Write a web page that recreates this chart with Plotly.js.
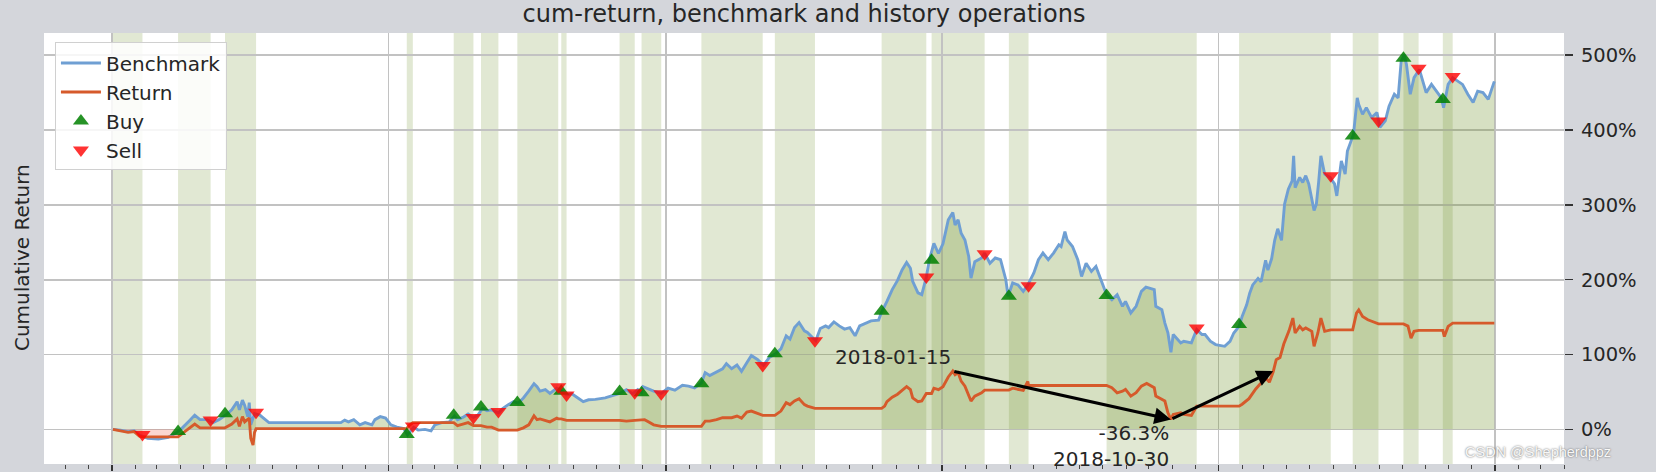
<!DOCTYPE html>
<html>
<head>
<meta charset="utf-8">
<script src="https://cdn.plot.ly/plotly-3.0.1.min.js"></script>
<style>html,body{margin:0;padding:0;background:#d4d6db;}#chart{width:1656px;height:472px;}</style>
</head>
<body>
<div id="chart"></div>
<script>
// ---- Benchmark cumulative return (%) ----
const benchDates = ['2015-01-02','2015-01-12','2015-01-22','2015-01-30','2015-02-06','2015-02-17','2015-03-03','2015-03-16','2015-03-27','2015-04-03','2015-04-14','2015-04-20','2015-04-27','2015-05-06','2015-05-14','2015-05-22','2015-06-01','2015-06-08','2015-06-15','2015-06-18','2015-06-22','2015-06-25','2015-06-29','2015-07-01','2015-07-03','2015-07-08','2015-07-15','2015-07-22','2015-07-27','2015-10-30','2015-11-04','2015-11-09','2015-11-16','2015-11-24','2015-12-01','2015-12-10','2015-12-14','2015-12-21','2015-12-28','2016-01-04','2016-01-12','2016-01-21','2016-01-26','2016-02-03','2016-02-09','2016-02-18','2016-02-26','2016-03-02','2016-03-11','2016-03-21','2016-03-28','2016-04-01','2016-04-08','2016-04-15','2016-04-22','2016-04-28','2016-05-04','2016-05-10','2016-05-16','2016-05-25','2016-05-31','2016-06-07','2016-06-14','2016-06-20','2016-06-27','2016-07-04','2016-07-11','2016-07-15','2016-07-19','2016-07-26','2016-08-01','2016-08-10','2016-08-17','2016-08-23','2016-08-30','2016-09-07','2016-09-14','2016-09-21','2016-09-30','2016-10-13','2016-10-24','2016-11-01','2016-11-10','2016-11-18','2016-11-25','2016-11-30','2016-12-02','2016-12-09','2016-12-16','2016-12-26','2017-01-04','2017-01-13','2017-01-23','2017-01-31','2017-02-08','2017-02-17','2017-02-22','2017-02-28','2017-03-09','2017-03-17','2017-03-22','2017-03-29','2017-04-05','2017-04-11','2017-04-18','2017-04-24','2017-05-02','2017-05-10','2017-05-18','2017-05-26','2017-06-02','2017-06-09','2017-06-14','2017-06-20','2017-06-26','2017-07-03','2017-07-07','2017-07-18','2017-07-24','2017-07-31','2017-08-04','2017-08-11','2017-08-18','2017-08-25','2017-09-01','2017-09-08','2017-09-14','2017-09-21','2017-09-29','2017-10-09','2017-10-13','2017-10-20','2017-10-27','2017-11-03','2017-11-09','2017-11-15','2017-11-20','2017-11-23','2017-11-30','2017-12-05','2017-12-11','2017-12-15','2017-12-21','2017-12-27','2018-01-02','2018-01-09','2018-01-15','2018-01-18','2018-01-22','2018-01-26','2018-01-31','2018-02-05','2018-02-08','2018-02-13','2018-02-22','2018-02-26','2018-03-05','2018-03-12','2018-03-19','2018-03-26','2018-03-29','2018-04-04','2018-04-11','2018-04-18','2018-04-24','2018-05-02','2018-05-08','2018-05-14','2018-05-21','2018-05-28','2018-06-04','2018-06-07','2018-06-12','2018-06-15','2018-06-22','2018-06-29','2018-07-04','2018-07-10','2018-07-17','2018-07-23','2018-07-30','2018-08-06','2018-08-13','2018-08-20','2018-08-27','2018-08-31','2018-09-07','2018-09-14','2018-09-21','2018-09-27','2018-10-08','2018-10-10','2018-10-18','2018-10-22','2018-10-26','2018-10-30','2018-11-02','2018-11-12','2018-11-16','2018-11-26','2018-12-03','2018-12-10','2018-12-14','2018-12-21','2018-12-28','2019-01-09','2019-01-16','2019-01-21','2019-01-28','2019-02-01','2019-02-07','2019-02-11','2019-02-15','2019-02-22','2019-02-26','2019-03-04','2019-03-07','2019-03-12','2019-03-16','2019-03-20','2019-03-25','2019-03-29','2019-04-03','2019-04-08','2019-04-10','2019-04-12','2019-04-18','2019-04-22','2019-04-26','2019-04-30','2019-05-07','2019-05-10','2019-05-13','2019-05-16','2019-05-21','2019-05-28','2019-06-03','2019-06-06','2019-06-12','2019-06-17','2019-06-20','2019-06-25','2019-06-28','2019-07-03','2019-07-05','2019-07-10','2019-07-15','2019-07-22','2019-07-29','2019-08-02','2019-08-09','2019-08-14','2019-08-21','2019-08-26','2019-08-30','2019-09-03','2019-09-06','2019-09-11','2019-09-16','2019-09-23','2019-09-26','2019-10-02','2019-10-09','2019-10-15','2019-10-22','2019-10-25','2019-10-31','2019-11-06','2019-11-13','2019-11-19','2019-11-26','2019-12-03','2019-12-09','2019-12-16','2019-12-23','2019-12-30','2019-12-31'];
const benchValues = [0,-1,-3,-2,-7.5,-12,-13,-10.7,-4.4,1.3,12.4,19,13,13,9,13,20,26,37,26,39,32,17,35.6,6,21,19,12.4,9,9,12.4,10,13,6,9,6,13,17,15,6,3,1,-7.6,2.7,-1,0,-2,6,9,10,18,13,16,20.6,16,19,28,25,26,22,28,33,37,35,42,51,61,57,51,53,48,55,51,46,47.5,42,37,39.5,40,42,45,48,53,47.5,53,49,57,54,51,48,55,52.4,59,57.7,55.5,62,75.8,72,76.7,81,87.7,81,86,77.5,89,98.7,93.4,85.5,96.5,101,107.5,125,120.7,136,142.7,131.7,129.5,118.5,134.8,138.3,136,143.6,138.3,134,136,125,138.3,141.9,145,146,156.8,171,186.8,199,213,223,215.4,197.8,182.4,180,203.5,226.4,248.5,235,248,280,289.8,273,280,262,253,231,202,224,229,235.6,222,229,226.7,200,177.8,195.6,193,184.4,193,209,226.7,235.6,226.7,235.6,246.7,244.4,264.4,253,244.4,226.7,204.4,222,211,217.8,200,180,173.3,180,164.4,171,155.6,164.4,184.4,190,186.7,164.4,160,142,129,103,126.7,115.6,117.8,115.6,133.3,126.7,126.7,117.8,113.3,111,117.7,128.8,137.6,150.9,166.4,181.9,193,201.8,197.3,226,212.8,228.3,252.7,268,252.7,301,321,332,365.5,323,336.7,330,339,328,292.5,301,330,365.5,341,336.7,328,312,358.8,341,372,385.4,394,443,434,421,430,416.8,423.4,403.5,412.4,432,447.8,443,491.8,500.4,487.6,447.8,470,481,470,450,461,452,443,430,461,470,465.5,461,447.8,436.8,452,450,441,463,465];

// ---- Strategy cumulative return (%) ----
const retDates = ['2015-01-02','2015-01-12','2015-01-22','2015-01-30','2015-02-06','2015-02-10','2015-03-29','2015-04-03','2015-04-14','2015-04-20','2015-04-27','2015-05-06','2015-05-11','2015-05-30','2015-06-08','2015-06-15','2015-06-18','2015-06-22','2015-06-25','2015-07-01','2015-07-03','2015-07-06','2015-07-08','2015-07-10','2016-01-25','2016-01-28','2016-02-02','2016-03-27','2016-04-01','2016-04-08','2016-04-15','2016-04-22','2016-05-02','2016-05-10','2016-05-16','2016-05-25','2016-06-19','2016-06-27','2016-07-04','2016-07-11','2016-07-15','2016-07-19','2016-07-26','2016-08-01','2016-08-10','2016-08-12','2016-08-16','2016-08-23','2016-11-01','2016-11-10','2016-11-21','2016-11-30','2016-12-04','2016-12-09','2016-12-16','2016-12-26','2017-02-17','2017-02-22','2017-02-28','2017-03-09','2017-03-17','2017-03-29','2017-04-05','2017-04-11','2017-04-18','2017-04-24','2017-05-02','2017-05-09','2017-05-25','2017-06-02','2017-06-09','2017-06-14','2017-06-20','2017-06-26','2017-07-03','2017-07-07','2017-07-17','2017-10-13','2017-10-17','2017-10-20','2017-10-27','2017-11-03','2017-11-09','2017-11-15','2017-11-20','2017-11-23','2017-11-30','2017-12-05','2017-12-11','2017-12-18','2017-12-21','2017-12-27','2018-01-02','2018-01-09','2018-01-15','2018-01-18','2018-01-22','2018-01-26','2018-01-31','2018-02-05','2018-02-08','2018-02-13','2018-02-22','2018-02-26','2018-03-30','2018-04-04','2018-04-11','2018-04-18','2018-04-24','2018-04-25','2018-08-06','2018-08-13','2018-08-20','2018-08-27','2018-08-31','2018-09-07','2018-09-14','2018-09-21','2018-09-28','2018-10-08','2018-10-10','2018-10-18','2018-10-22','2018-10-26','2018-10-30','2018-11-02','2018-11-12','2018-11-16','2018-11-26','2018-12-03','2019-01-28','2019-02-01','2019-02-10','2019-02-19','2019-02-25','2019-03-05','2019-03-09','2019-03-14','2019-03-18','2019-03-23','2019-03-28','2019-04-04','2019-04-09','2019-04-12','2019-04-18','2019-04-22','2019-04-26','2019-05-04','2019-05-07','2019-05-12','2019-05-16','2019-05-21','2019-05-29','2019-06-27','2019-07-02','2019-07-05','2019-07-10','2019-07-17','2019-07-24','2019-07-31','2019-09-02','2019-09-08','2019-09-12','2019-09-16','2019-09-22','2019-10-24','2019-10-26','2019-10-31','2019-11-06','2019-12-31'];
const retValues = [0,-2,-4,-3,-9,-10,-10,-6,3,7,2,2.5,2,2,7,14,4,17,10,15,-12,-21,-4,1,1,5,9,9,5,7,9,5,5,3,3,-1,-1,2,6,18,13,14,12,10,15,14,14,12,12,11,12,12,13,10,6,4,4,11,11,13,15.6,15.6,17.8,15,23,24.4,21,18.7,18.7,24.4,35.6,33,38,41,33,31,28,28,31,37,43,47,52,57,53,42,37,38,48,48,55,53,57,70,77.8,73,75.6,64.4,57.8,45,37.8,44.4,48.9,52.4,52.4,55,54,52,64,58.7,58.7,55.6,48.9,51,53.3,44.4,48.9,57.8,61.3,55.6,44.4,40,37.8,22.2,13.3,20,22.2,20,18.7,31,31,33.6,41,54,61,68,63,77,93,96,114,132,148.7,128.8,137.6,133,135.4,131,111,128.8,148.7,131,133,133,155.3,159.7,151,146.5,144,141,141,138,122,131,132.3,132.3,124,137.6,142,142];

// ---- Operations ----
const buyDates = ['2015-03-29','2015-05-30','2016-01-25','2016-03-27','2016-05-02','2016-06-19','2016-08-16','2016-11-01','2016-11-30','2017-02-17','2017-05-25','2017-10-13','2017-12-18','2018-03-30','2018-08-06','2019-01-28','2019-06-27','2019-09-02','2019-10-24'];
const buyValues = [-3,21,-7,19,30,36,51,50.7,49,61,101,158,226,177.8,179,140,392,496,440.7];
const sellDates = ['2015-02-10','2015-05-11','2015-07-10','2016-02-02','2016-04-22','2016-05-25','2016-08-12','2016-08-23','2016-11-21','2016-12-26','2017-05-09','2017-07-17','2017-12-11','2018-02-26','2018-04-25','2018-12-03','2019-05-29','2019-07-31','2019-09-22','2019-11-06'];
const sellValues = [-7,12.4,22.7,4.5,16,23.8,57,46,49,47.5,85.5,118.5,203.5,234.7,192,135.6,339,412,482.7,471.7];

// ---- Holding periods ----
const holdStart = ['2015-01-02','2015-03-29','2015-05-30','2016-01-25','2016-03-27','2016-05-02','2016-06-19','2016-08-16','2016-11-01','2016-11-30','2017-02-17','2017-05-25','2017-10-13','2017-12-18','2018-03-30','2018-08-06','2019-01-28','2019-06-27','2019-09-02','2019-10-24'];
const holdEnd = ['2015-02-10','2015-05-11','2015-07-10','2016-02-02','2016-04-22','2016-05-25','2016-08-12','2016-08-23','2016-11-21','2016-12-26','2017-05-09','2017-07-17','2017-12-11','2018-02-26','2018-04-25','2018-12-03','2019-05-29','2019-07-31','2019-09-22','2019-11-06'];

// ---- Max drawdown annotation ----
const ddPeakDate = '2018-01-15', ddPeakValue = 77.8;
const ddTroughDate = '2018-10-30', ddTroughValue = 13.3;
const ddRecoverDate = '2019-03-14', ddRecoverValue = 77.8;
const ddText = '-36.3%';

const yTicks = [0,100,200,300,400,500];
const yTickText = ['0%','100%','200%','300%','400%','500%'];
const FONT = 'DejaVu Sans';
const TXT = '#262626';

const traces = [
  {x: benchDates, y: benchValues.map(v => Math.max(v, 0)), type: 'scatter', mode: 'lines',
   line: {width: 0, color: 'rgba(0,0,0,0)'}, fill: 'tozeroy', fillcolor: 'rgba(107,142,35,0.28)',
   showlegend: false, hoverinfo: 'skip'},
  {x: benchDates, y: benchValues.map(v => Math.min(v, 0)), type: 'scatter', mode: 'lines',
   line: {width: 0, color: 'rgba(0,0,0,0)'}, fill: 'tozeroy', fillcolor: 'rgba(240,90,70,0.25)',
   showlegend: false, hoverinfo: 'skip'},
  {x: benchDates, y: benchValues, type: 'scatter', mode: 'lines', name: 'Benchmark',
   line: {color: '#6f9fd3', width: 2.9}, legendrank: 1},
  {x: retDates, y: retValues, type: 'scatter', mode: 'lines', name: 'Return',
   line: {color: '#d65a2b', width: 2.9}, legendrank: 2},
  {x: buyDates, y: buyValues, type: 'scatter', mode: 'markers', name: 'Buy',
   marker: {symbol: 'triangle-up', size: 14, color: 'green', opacity: 0.85, line: {width: 0}}, legendrank: 3},
  {x: sellDates, y: sellValues, type: 'scatter', mode: 'markers', name: 'Sell',
   marker: {symbol: 'triangle-down', size: 14, color: 'red', opacity: 0.8, line: {width: 0}}, legendrank: 4}
];

const shapes = holdStart.map((s, i) => ({
  type: 'rect', xref: 'x', yref: 'paper', x0: s, x1: holdEnd[i], y0: 0, y1: 1,
  fillcolor: 'rgba(107,142,35,0.2)', line: {width: 0}, layer: 'below'
}));

const annotations = [
  {x: ddTroughDate, y: ddTroughValue, ax: ddPeakDate, ay: ddPeakValue, axref: 'x', ayref: 'y',
   xref: 'x', yref: 'y', text: '', showarrow: true, arrowhead: 2, arrowsize: 1.1, arrowwidth: 3,
   arrowcolor: 'black', standoff: 0, startstandoff: 0},
  {x: ddRecoverDate, y: ddRecoverValue, ax: ddTroughDate, ay: ddTroughValue, axref: 'x', ayref: 'y',
   xref: 'x', yref: 'y', text: '', showarrow: true, arrowhead: 2, arrowsize: 1.1, arrowwidth: 3,
   arrowcolor: 'black', standoff: 0, startstandoff: 0},
  {x: ddPeakDate, y: ddPeakValue, xref: 'x', yref: 'y', text: ddPeakDate, showarrow: false,
   xanchor: 'right', yanchor: 'bottom', font: {family: FONT, size: 20, color: TXT}},
  {x: ddTroughDate, y: ddTroughValue, xref: 'x', yref: 'y', text: ddText + '<br>' + ddTroughDate,
   showarrow: false, xanchor: 'right', yanchor: 'top', align: 'right',
   font: {family: FONT, size: 20, color: TXT}},
  {xref: 'paper', yref: 'paper', x: -0.0145, y: 0.48, text: 'Cumulative Return', textangle: -90,
   showarrow: false, xanchor: 'center', yanchor: 'middle', font: {family: FONT, size: 20, color: TXT}},
  {xref: 'paper', yref: 'paper', x: 1.032, y: 0.028, text: 'CSDN @Shepherdppz', showarrow: false,
   xanchor: 'right', yanchor: 'middle',
   font: {family: 'Liberation Sans', size: 14.5, color: '#f7f7f7', shadow: '0px 0px 2px #555'}}
];

const layout = {
  width: 1656, height: 472,
  margin: {l: 44, r: 92, t: 33, b: 8, pad: 0},
  paper_bgcolor: '#d4d6db', plot_bgcolor: '#ffffff',
  font: {family: FONT, color: TXT, size: 20},
  title: {text: 'cum-return, benchmark and history operations', x: 0.5, xref: 'paper',
          y: 0.9703, yref: 'container', yanchor: 'middle', font: {family: FONT, size: 24, color: TXT}},
  xaxis: {type: 'date', range: ['2014-10-03', '2020-04-01'], showticklabels: false,
          tick0: '2015-01-01', dtick: 'M12', ticks: 'outside', ticklen: 6, tickwidth: 1.5, tickcolor: '#333',
          showgrid: true, gridcolor: '#c2c2c2', gridwidth: 1.6, zeroline: false, showline: false,
          minor: {dtick: 'M1', tick0: '2015-01-01', ticks: 'outside', ticklen: 4, tickwidth: 1, tickcolor: '#444', showgrid: false},
          automargin: false, fixedrange: true},
  yaxis: {side: 'right', range: [-46.3, 529.7], tickmode: 'array', tickvals: yTicks, ticktext: yTickText,
          ticks: 'outside', ticklen: 8, tickwidth: 1.5, tickcolor: '#333',
          tickfont: {family: FONT, size: 19.5, color: TXT}, ticklabelstandoff: 4,
          showgrid: true, gridcolor: '#c2c2c2', gridwidth: 1.6, zeroline: false, showline: false,
          automargin: false, fixedrange: true},
  legend: {x: 0.0072, y: 0.978, xanchor: 'left', yanchor: 'top', bgcolor: 'rgba(255,255,255,0.85)',
           bordercolor: '#d0d0d0', borderwidth: 1, font: {family: FONT, size: 20, color: TXT},
           tracegroupgap: 0, itemwidth: 40},
  shapes: shapes,
  annotations: annotations,
  showlegend: true
};

Plotly.newPlot('chart', traces, layout, {displayModeBar: false, staticPlot: true});
</script>
</body>
</html>
